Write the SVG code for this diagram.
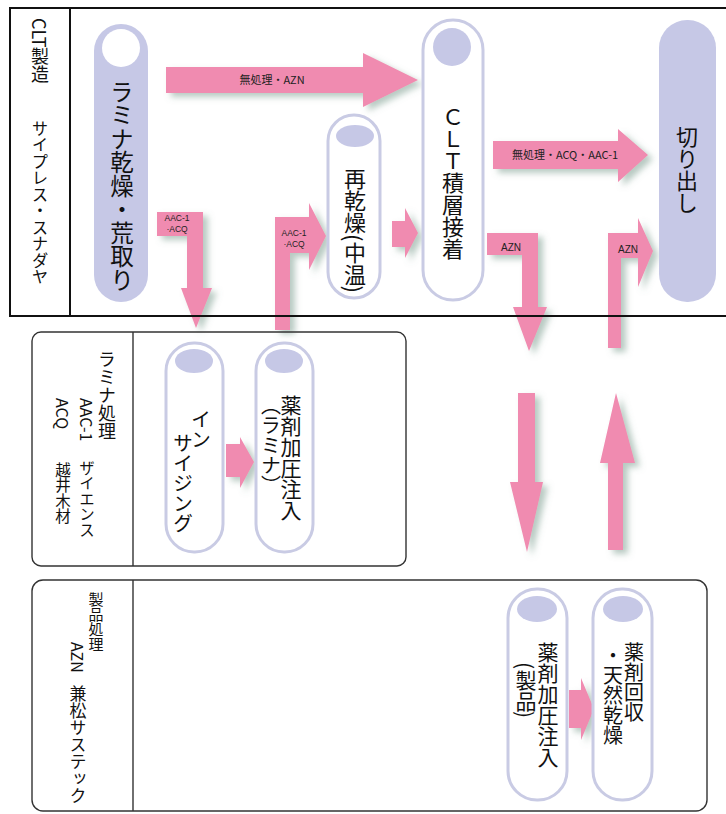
<svg xmlns="http://www.w3.org/2000/svg" width="726" height="814" viewBox="0 0 726 814">
<defs>
<filter id="sh" x="-40%" y="-40%" width="180%" height="180%">
<feDropShadow dx="5" dy="4" stdDeviation="3" flood-color="#6f9484" flood-opacity="0.5"/>
</filter>
</defs>
<style>
.frame{fill:none;stroke:#111;stroke-width:2}
.lane{fill:none;stroke:#333;stroke-width:1.4}
.pf{fill:#c6c8e6}
.po{fill:#fff;stroke:#c9cbe4;stroke-width:3}
.cap{fill:#c6c8e6}
.hole{fill:#fff}
.arr{fill:#f08bb0;filter:url(#sh)}
.v{writing-mode:vertical-rl;font-family:"Noto Sans CJK JP","Noto Sans",sans-serif;fill:#111}
.al{font-family:"Liberation Sans","Noto Sans CJK JP",sans-serif;fill:#222;font-size:10px;text-anchor:middle}
.as{font-family:"Liberation Sans","Noto Sans CJK JP",sans-serif;fill:#222;font-size:8.5px;text-anchor:middle}
.aj{font-family:"Noto Sans CJK JP","Liberation Sans",sans-serif;fill:#222;font-size:11px;text-anchor:middle}
</style>
<rect width="726" height="814" fill="#fff"/>

<g id="connectors">
<polygon class="arr" points="166,67 363,67 363,53 418,80 363,107 363,93 166,93"/>
<polygon class="arr" points="493,141 618,141 618,129 648,155 618,182 618,169 493,169"/>
<polygon class="arr" points="157,212 203,212 203,288 212,288 196,328 181,288 187,288 187,236 157,236"/>
<polygon class="arr" points="275,330 275,217 309,217 309,203 326,236 309,270 309,253 290,253 290,330"/>
<polygon class="arr" points="392,221 405,221 405,208 418,233 405,258 405,247 392,247"/>
<polygon class="arr" points="487,233 538,233 538,307 547,307 529,351 513,307 522,307 522,255 487,255"/>
<polygon class="arr" points="608,348 608,233 638,233 638,218 653,251 638,287 638,258 621,258 621,348"/>
<polygon class="arr" points="518,393 535,393 535,482 543,482 527,552 510,482 518,482"/>
<polygon class="arr" points="608,550 608,463 600,463 616,393 635,463 623,463 623,550"/>
<polygon class="arr" points="226,444 240,444 240,437 254,462 240,488 240,477 226,477"/>
<polygon class="arr" points="569,690 581,690 581,678 594,709 581,740 581,728 569,728"/>
<text class="aj" x="272" y="84">無処理・AZN</text>
<text class="aj" x="565" y="159">無処理・ACQ・AAC-1</text>
<text class="as" x="177" y="221">AAC-1</text>
<text class="as" x="177" y="232">·ACQ</text>
<text class="as" x="294" y="236">AAC-1</text>
<text class="as" x="294" y="247">·ACQ</text>
<text class="al" x="511" y="251">AZN</text>
<text class="al" x="628" y="253">AZN</text>
</g>

<g id="lanes">
<path class="frame" d="M740,8 H10 V316 H740"/>
<line class="frame" x1="70" y1="8" x2="70" y2="316"/>
<rect class="lane" x="32" y="332" width="374" height="234" rx="9"/>
<line class="lane" x1="133" y1="332" x2="133" y2="566"/>
<rect class="lane" x="32" y="580" width="675" height="231" rx="11"/>
<line class="lane" x1="133" y1="580" x2="133" y2="811"/>
<text class="v" x="40" y="18" font-size="18">CLT製造</text>
<text class="v" x="40" y="120" font-size="16.5">サイプレス・スナダヤ</text>
<text class="v" x="107" y="350" font-size="18">ラミナ処理</text>
<text class="v" x="87" y="398" font-size="16">AAC-1</text>
<text class="v" x="87" y="460" font-size="15.5">ザイエンス</text>
<text class="v" x="63" y="398" font-size="16">ACQ</text>
<text class="v" x="63" y="462" font-size="15.5">越井木材</text>
<text class="v" x="96" y="592" font-size="15">製品処理</text>
<text class="v" x="78" y="642" font-size="16">AZN</text>
<text class="v" x="78" y="685" font-size="17">兼松サステック</text>
</g>

<g id="n1">
<rect class="pf" x="94" y="24" width="54" height="278" rx="27"/>
<circle class="hole" cx="121" cy="48" r="19"/>
<text class="v" x="122" y="80" font-size="23.5">ラミナ乾燥・荒取り</text>
</g>
<g id="n2">
<rect class="po" x="328" y="115" width="52" height="183" rx="26"/>
<ellipse class="cap" cx="355" cy="136" rx="19" ry="11"/>
<text class="v" x="355" y="168" font-size="22">再乾燥(中温)</text>
</g>
<g id="n3">
<rect class="po" x="423" y="20" width="60" height="280" rx="30"/>
<circle class="cap" cx="452" cy="47" r="19"/>
<text class="v" x="453" y="106" font-size="22">ＣＬＴ積層接着</text>
</g>
<g id="n4">
<rect class="pf" x="659" y="20" width="57" height="282" rx="28"/>
<text class="v" x="687" y="126" font-size="22">切り出し</text>
</g>
<g id="n5">
<rect class="po" x="166" y="343" width="57" height="209" rx="28"/>
<ellipse class="cap" cx="194" cy="361" rx="19" ry="12"/>
<text class="v" x="201" y="409" font-size="20">イン</text>
<text class="v" x="183" y="433" font-size="20">サイジング</text>
</g>
<g id="n6">
<rect class="po" x="256" y="343" width="57" height="209" rx="28"/>
<ellipse class="cap" cx="284" cy="361" rx="19" ry="12"/>
<text class="v" x="291" y="395" font-size="21">薬剤加圧注入</text>
<text class="v" x="271" y="395" font-size="20">（ラミナ）</text>
</g>
<g id="n7">
<rect class="po" x="508" y="589" width="59" height="211" rx="29"/>
<ellipse class="cap" cx="537" cy="609" rx="20" ry="13"/>
<text class="v" x="548" y="642" font-size="21">薬剤加圧注入</text>
<text class="v" x="526" y="662" font-size="21">(製品)</text>
</g>
<g id="n8">
<rect class="po" x="593" y="589" width="59" height="211" rx="29"/>
<ellipse class="cap" cx="623" cy="609" rx="20" ry="13"/>
<text class="v" x="634" y="642" font-size="20">薬剤回収</text>
<text class="v" x="613" y="645" font-size="20">・天然乾燥</text>
</g>
</svg>
